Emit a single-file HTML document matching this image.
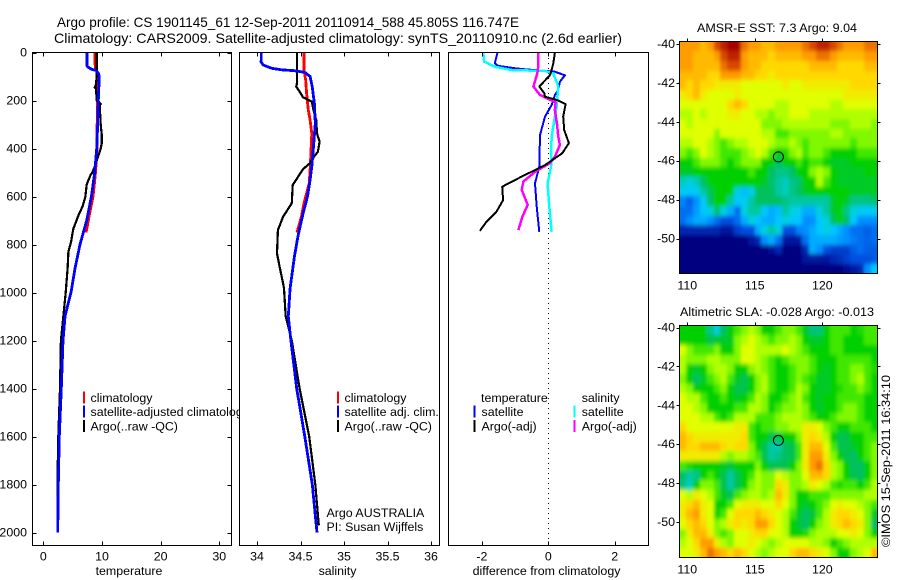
<!DOCTYPE html>
<html lang="en">
<head>
<meta charset="utf-8">
<title>Argo profile 1901145_61</title>
<style>
html,body{margin:0;padding:0;background:#fff;}
svg{display:block;}
text{font-family:"Liberation Sans",sans-serif;font-size:12.4px;fill:#000;}
</style>
</head>
<body>
<svg id="chart" xmlns="http://www.w3.org/2000/svg" width="900" height="580" viewBox="0 0 900 580">
  <defs>
    <filter id="soften" filterUnits="userSpaceOnUse" x="660" y="20" width="240" height="560"><feGaussianBlur stdDeviation="1.6 2.2"/></filter>
    <clipPath id="clip-map-1"><rect x="679.5" y="41.5" width="198" height="232"/></clipPath>
    <clipPath id="clip-map-2"><rect x="679.5" y="325.5" width="198" height="232"/></clipPath>
  </defs>
  <rect x="0" y="0" width="900" height="580" fill="#fff"/>
  <text x="57" y="27" style="font-size:13.6px" textLength="462" lengthAdjust="spacingAndGlyphs">Argo profile: CS 1901145_61 12-Sep-2011 20110914_588 45.805S 116.747E</text>
  <text x="54" y="43" style="font-size:13.6px" textLength="568" lengthAdjust="spacingAndGlyphs">Climatology: CARS2009. Satellite-adjusted climatology: synTS_20110910.nc (2.6d earlier)</text>
  <g id="layer"></g>
  <text x="697" y="32" textLength="160" lengthAdjust="spacingAndGlyphs">AMSR-E SST: 7.3 Argo: 9.04</text>
  <text x="680" y="316" textLength="194" lengthAdjust="spacingAndGlyphs">Altimetric SLA: -0.028 Argo: -0.013</text>
  <text transform="translate(890,547) rotate(-90)" textLength="172" lengthAdjust="spacingAndGlyphs">©IMOS 15-Sep-2011 16:34:10</text>
</svg>
<script>
/* ---------- tick labels ---------- */
const depthTicks = [0,200,400,600,800,1000,1200,1400,1600,1800,2000];
const tempTicks = [0,10,20,30];
const salTicks = [34,34.5,35,35.5,36];
const salTickLabels = ['34','34.5','35','35.5','36'];
const diffTicks = [-2,0,2];
const lonTicks = [110,115,120];
const latTicks = [-40,-42,-44,-46,-48,-50];
const floatLon = 116.747;
const floatLat = -45.805;

/* ---------- temperature panel ---------- */
const tClimDepth = [0,60,100,200,400,500,550,600,650,700,750];
const tClimVal = [8.8,8.85,9.38,9.2,9.15,8.9,8.7,8.47,8.07,7.67,7.3];
const tSatDepth = [0,55,60,70,75,85,100,200,300,400,500,600,700,800,900,1000,1100,1200,1400,1600,1800,2000];
const tSatVal = [7.45,7.45,7.56,8.24,8.98,9.38,9.55,9.38,9.27,9.1,8.76,8.19,7.39,6.25,5.4,4.72,3.7,3.35,3.07,2.73,2.56,2.45];
const tArgoDepth = [0,100,140,145,150,200,205,215,220,300,340,380,400,430,480,500,510,550,600,640,680,735,790,830,900,1000,1200,1400,1600,1800,1950];
const tArgoVal = [9.1,9.1,8.93,8.76,8.98,9.1,9.44,9.78,9.61,9.78,9.95,9.95,9.78,9.38,8.7,8.36,8.07,7.39,7.17,6.71,5.97,5.12,4.72,4.27,4.15,3.81,3.0,2.85,2.55,2.4,2.4];

/* ---------- salinity panel ---------- */
const sClimDepth = [0,73,115,170,240,281,337,420,490,545,628,684,750];
const sClimVal = [34.54,34.54,34.56,34.57,34.59,34.61,34.63,34.62,34.61,34.6,34.54,34.51,34.46];
const sSatDepth = [0,31,38,52,66,72,76,83,100,142,212,295,392,475,531,600,670,767,851,983,1100,1200,1400,1600,1800,2000];
const sSatVal = [34.05,34.05,34.045,34.07,34.17,34.28,34.43,34.55,34.61,34.635,34.66,34.67,34.65,34.63,34.61,34.58,34.53,34.47,34.43,34.38,34.36,34.39,34.456,34.55,34.636,34.69];
const sArgoDepth = [0,128,142,163,187,205,240,281,337,372,413,437,461,486,552,628,684,740,837,892,962,983,1100,1200,1400,1600,1800,1970];
const sArgoVal = [34.46,34.46,34.45,34.49,34.53,34.63,34.65,34.68,34.69,34.72,34.7,34.65,34.61,34.53,34.41,34.4,34.3,34.24,34.23,34.26,34.3,34.31,34.33,34.4,34.49,34.6,34.67,34.71];

/* ---------- difference panel ---------- */
const dTempSatDepth = [0,45,56,66,70,80,95,122,156,177,219,267,344,476,545,642,747];
const dTempSatVal = [-1.53,-1.61,-1.51,-1,-0.7,0.2,0.5,0.35,0.3,0.2,0.1,-0.1,-0.25,-0.27,-0.4,-0.35,-0.27];
const dSalSatDepth = [0,38,59,73,77,87,142,226,351,476,545,628,747];
const dSalSatVal = [-1.96,-1.93,-1.61,-1.1,-0.1,0.15,0.3,0.25,0.1,0.08,-0.02,0.02,0.1];
const dSalArgoDepth = [0,59,87,142,177,208,240,295,351,385,434,461,497,538,573,635,684,740];
const dSalArgoVal = [-0.3,-0.3,-0.33,-0.45,-0.25,0.22,0.2,0.26,0.3,0.35,0.2,0.05,-0.4,-0.75,-0.8,-0.62,-0.78,-0.9];
const dTempArgoDepth = [0,45,73,94,142,170,184,200,215,267,323,378,420,469,517,559,615,663,705,743];
const dTempArgoVal = [0.2,0.15,0.1,0.05,-0.27,-0.12,-0.1,0.3,0.52,0.45,0.48,0.62,0.42,-0.1,-0.8,-1.39,-1.36,-1.56,-1.86,-2.06];

/* ---------- maps (colour index per cell, north to south) ---------- */
const sstGrid = [
[9,9,9,8.5,9,10,10.5,11,11,9.5,9,9,8.5,8.5,9,9,9,9,9.5,10,10.5,10.5,10,9.5,9,9,9,9.5,9.5],
[9,9,8.5,8.5,8.5,9,10,10.5,10.5,9,8.5,8.5,8.5,8,8.5,8.5,8.5,8.5,9,9,9.5,9.5,9,8.5,8.5,8.5,8.5,9,9],
[9,9,8.5,8.5,8.5,8.5,9.5,10,10,9,8.5,8.5,8,8,8,8,8,8,8,8.5,8.5,8.5,8.5,8,8,8,8,8.5,8.5],
[8.5,8.5,8.5,8.5,8,8,9,9,9,8.5,8.5,8,8,7.5,8,8,8,8,8,8,8,8,8,8,8,8,8,8,8],
[8.5,8,8.5,8,8,7.5,7.5,7.5,7.5,7,7,7,7,7,7,7.5,7,7,7.5,7.5,7.5,7.5,7.5,7.5,7.5,8,8,8,8],
[7.5,8,8.5,7.5,7,7,7,7,7.5,7,7,7,7,7,7,7,7,7,7,7,7,7,7,7,7.5,7.5,7.5,7.5,7.5],
[7,7,7,7,7,7,7,8,8.5,8,7,7,7,7,6.5,6.5,7,7,7,7,7,7,6.5,6.5,7,7,7,7,7],
[6.5,6.5,7,6.5,7,7,7,7.5,7.5,7,7,6.5,6.5,6,6.5,6.5,7,7,7,6.5,6.5,6.5,6.5,6.5,6.5,6.5,6.5,6.5,6.5],
[7,6.5,7,7,7,7,7,7,7,7,7,7,6,6,6,6.5,6.5,6.5,6.5,6.5,6.5,6.5,6,6,6,6.5,6.5,6.5,6],
[7,7,7,7,7,6,7,7,7,7,7,7,6.5,6.5,5.5,5.5,6,6,6,6,6,6,6.5,6.5,6,6,6,6,6],
[6.5,6.5,7,7,6.5,6,5.5,6,6.5,6.5,7,7,7,6.5,6,6,6.5,6,5.5,6,6,6,6,6,6,5.5,6,6,6],
[6,5.5,6,7,6.5,6,5.5,5.5,5.5,6,6.5,7,6.5,5.5,5,5.2,6,6.5,5.5,6,6,5.5,5,5,5,5,5.5,5.5,5.5],
[5,5,5.5,6,6,6,5.5,5,5.5,6,6,6,5,5,4.5,5,5,5.5,5,5.5,5.5,5,4.8,4.8,4.8,5,5,5,5],
[4.8,4.8,5,5,5,5,5,5,5,5,5.5,5,5,4.5,4.2,4.2,4.5,5,5,6,6.5,6,5,4.8,4.8,4.8,4.8,5,5],
[3.8,3.5,3.8,4.5,5,5,5,5,5,5,5,5,4.8,4.4,4,3.8,4.2,4.4,5,5,6.5,5.5,5,4.8,4.8,4.8,4.8,4.8,4.8],
[3.2,3,3.2,4,4.6,5,5,5,3.5,2.8,3.5,4.5,4.5,4.5,4,3.8,4.2,4.5,4.8,5,5,5,5,5,5,4.8,4.8,4.8,4.8],
[1.8,1.3,2,3.2,4.5,5,5,4,3,3.2,4,4.5,4.5,4.5,4.5,4.2,4,4,4,4,4,4,4.8,5,4.8,4.2,4.2,4.2,4.4],
[1.5,1.5,2.2,3,3.5,4.5,3.5,2.5,1.5,3.5,4,4,3,2.5,2.8,4,3.5,3.2,2.5,2.5,3.5,4,4.8,5,4.2,3.5,3.2,3,3.2],
[1.5,2,2.5,2.5,2,1.5,1,1,1.5,2.5,3.5,3,2.5,2.5,3,3.5,3,3,2,2,3,3.5,4.5,5,4.5,3,2,2,2],
[0.5,0.5,0.5,0.5,0.5,0.5,0.3,0.3,0.8,1,1,2.5,3.5,4,3.5,1,1,1.8,2,2.5,3,3.5,3,2.5,2,1.5,1.5,1.2,1.5],
[0,0,0,0,0,0,0,0,0,0,0.3,0.5,2,2.5,1.5,0.3,0.3,0.3,1.5,2.5,2.5,2.5,2.5,2.2,2,1.7,1.5,1.3,1.5],
[0,0,0,0,0,0,0,0,0,0,0,0,0,0.2,0.5,0,0,0,0.5,2.5,2,1,0.8,0.8,0.8,1.2,1.5,1.2,1.2],
[0,0,0,0,0,0,0,0,0,0,0,0,0,0,0,0,0,0,0.3,0.3,0.3,0.3,0.5,0.6,0.8,1,1,1,1.2],
[0,0,0,0,0,0,0,0,0,0,0,0,0,0,0,0,0,0,0,0,0,0,0,0,0.2,0.3,0.5,2,3]
];
const slaGrid = [
[5,5,5,5,4.2,3.6,4.5,5,5.5,6,6.5,6,5,5,5.5,6,6,5.5,4.8,4.3,4.3,5,5.5,5.5,5.5,5,5.2,5.5,5.5],
[5,5,5,5,4.6,4.8,4.8,4.8,6,6.5,7,6.5,6,5.5,6,6,6.5,6,5,4.8,4.8,5,5.5,5.5,5,5,5,5.5,5.5],
[7,6,5.5,5.5,5.5,6,5,5,6,7,7,6.5,6.5,6.5,6.5,7,6.5,6,5.5,5,5,5,5.5,5.5,5,5,5,5,5],
[6.5,6,6,6,6.5,6.5,6,6,6,7,7,6.5,6,5.5,5,5.5,6,6,6,5.5,5,5,5,5.5,5.5,5.5,5.5,5.5,5],
[6.5,5,4.8,5,6,6.5,6.5,6,5,5,6,6.5,6,5.5,5,5,5.5,6,6,5.5,5,4.8,5,5.5,5.5,6,6,5.5,5.2],
[6,5,4.5,4.8,5.5,6,6.5,5.5,4.8,4.6,5,6,6.5,5.5,5,5,5.5,6,5.5,5.2,4.8,4.8,5,5.5,5.5,6,6.5,5.5,5],
[6.5,6,5,5,5,5.5,6,5,4.6,4.6,5,6,6.5,5.5,5,5,5.5,6.5,6,5,4.8,4.8,5,5.2,5.5,5.5,6,5.5,5],
[7,6.5,6.5,5.5,5,5,5.5,5,4.8,5,5.5,6.5,6,5,5,5.5,6,6.5,5.5,5,4.8,5,5,5.5,5.5,5.5,5.5,5,5],
[7,7,6.5,6,5,5,5,5,5.5,5.5,6.5,6.5,6,5,5.5,6,6,6.5,6,5,4.8,5,5,5.5,6,6,5.5,5,5],
[7,7,7,6.5,6.5,5.5,5,5.5,6.5,6.5,6.5,5.5,5.5,5.5,6,6.5,6.5,6.5,6,5.5,5,5,5.5,6,6,6,5.5,5,5],
[8,7,7,7,7,7,7,7,7.5,7.5,5.5,5,5.5,5.5,6,6,6.5,6.5,7.5,7.5,7,6,5.5,5,5,5.5,5.5,5.5,5],
[8.5,8,7.5,7.5,7.5,7.5,7.5,7.5,7.5,8,5.5,5,5,4.6,4.6,5,5,6,7.5,8,7.5,6.5,5,4.6,4.6,5,5,5.5,5.5],
[8.5,8,8,8.5,8.5,8.5,8,7.5,8,8,6,5,4.6,4,3.9,4.5,4.6,5.5,7.5,8.5,8.5,7,5.5,4.6,4.6,4.8,5,5.5,6],
[7.5,7.5,7.5,7.5,7.5,7.5,6.5,6,6.5,6.5,6,5.5,4.6,4,4.2,4.5,4.6,5.5,7.5,9,9,7.5,6,5,4.6,4.5,5,5.5,6],
[5.5,5.2,5,5,5,5,4.8,4.7,5,5,5,6,5,4.6,4.6,4.6,5,6,7.5,9,9.5,8,6.5,6,5,4.5,4.5,5,6],
[4.5,4,4.2,5,5.5,5,4.6,4,4.6,5,5.5,6.5,6,6,7,6.5,6,6,7,8.5,8.5,8,6.5,6,5,4.6,4.5,5,6],
[4.3,3.8,5,6,6,5.5,4.6,4,4.6,5,6,6.5,6,6,8,7.5,6,6,6.5,7.5,7,6.5,5.5,5.2,5.5,5.5,5,5.5,6.5],
[7,6.5,7.5,7,6.5,5.5,4.8,4.6,5.5,6,6.5,6.5,6,6.5,8.5,7.5,6,5,5,5.5,5.5,5.5,6,6,6,6,6,6.5,6.5],
[7.5,8,8.5,7.5,7,5,5,5.5,7,7.5,7.5,7.5,7,7,8,7,6,5,4.8,5,5.5,6,7,7.5,7,7,6.5,6,5.5],
[7.5,8.5,9,7.5,7,5,5.5,7,8,8,8,8.5,8,7.5,7,6.5,5.5,4.8,4.5,4.7,5.5,6.5,7.5,8,8,7.5,7,6,4.8],
[7,8,8.5,8,7,6,6.5,7.5,8,7.5,8,9,9,8,7,6.5,5,4.7,4.5,5,6,6.5,7.5,8,8.5,8,7.5,6,4.5],
[6,7.5,8.5,8.5,7.5,6,5.5,6,7,7,7.5,8,8,7,7,6.5,5,5,5.2,6,6.5,6.5,6.5,7,7,7.5,7,6,5],
[6.5,7,8,9,9,7.5,6.5,6,7,7,7.5,7,6.5,6,6.5,7,7,7,7,6.5,6.5,6,5,5.5,6,6.5,6.5,6.5,6.5],
[7,7,7.5,8.5,9.5,9,8.5,8,8.5,8,7,6.5,6,6.5,7,7,8,8.5,8.5,8,7.5,7,6,5,5,6,6.5,7,8.5]
];

/* ---------- helpers ---------- */
const SVGNS = 'http://www.w3.org/2000/svg';
const layer = document.getElementById('layer');
function mk(tag, attrs, text, parent) {
  const el = document.createElementNS(SVGNS, tag);
  for (const k in attrs) el.setAttribute(k, attrs[k]);
  if (text !== undefined && text !== null) el.textContent = text;
  (parent || layer).appendChild(el);
  return el;
}
const yDepth = d => 52.5 + 0.24 * d;
const xTemp = v => 43.3 + 5.867 * v;
const xSal = v => 257 + 87 * (v - 34);
const xDiff = v => 548.3 + 33.2 * v;
const xLon = v => 687.3 + 13.5 * (v - 110);
const yLat1 = v => 44 + 19.45 * (-40 - v);
const yLat2 = v => 327.5 + 19.45 * (-40 - v);

const colorStops = [[0,0,0,128],[1,0,80,224],[2,0,144,255],[3,0,200,255],[3.6,0,208,216],[4,0,200,160],[4.5,0,192,96],[5,0,208,0],[5.5,64,232,0],[6,128,248,0],[6.5,176,255,0],[7,224,255,0],[8,255,216,0],[9,255,156,0],[10,216,72,0],[11,168,0,0]];
function colorOf(v) {
  for (let i = 1; i < colorStops.length; i++) {
    const a = colorStops[i-1], b = colorStops[i];
    if (v <= b[0]) {
      const t = Math.max(0, (v - a[0]) / (b[0] - a[0]));
      return 'rgb(' + [1,2,3].map(c => Math.round(a[c] + (b[c]-a[c]) * t)).join(',') + ')';
    }
  }
  return 'rgb(168,0,0)';
}
function drawLine(depths, vals, xFn, color, width, name) {
  const pts = depths.map((d, i) => xFn(vals[i]).toFixed(1) + ',' + yDepth(d).toFixed(1)).join(' ');
  const line = mk('polyline', {points: pts, fill: 'none', stroke: color, 'stroke-width': width, 'shape-rendering': 'crispEdges', 'stroke-linejoin': 'round'});
  
  
}
function drawPanelBox(x0, x1, name) {
  const box = mk('rect', {x: x0, y: 52.5, width: x1 - x0, height: 493, fill: '#fff', stroke: 'none'});
  
  
}
function drawPanelFrame(x0, x1, name) {
  const box = mk('rect', {x: x0, y: 52.5, width: x1 - x0, height: 493, fill: 'none', stroke: '#000', 'stroke-width': 1, 'shape-rendering': 'crispEdges'});
  
  
}
function drawXTicks(ticks, labels, xFn, name) {
  ticks.forEach((t, i) => {
    const x = Math.round(xFn(t)) + 0.5;
    const top = mk('line', {x1: x, x2: x, y1: 52.5, y2: 56.5, stroke: '#000', 'shape-rendering': 'crispEdges'});
    
    
    const bot = mk('line', {x1: x, x2: x, y1: 541.5, y2: 545.5, stroke: '#000', 'shape-rendering': 'crispEdges'});
    
    
    const lab = mk('text', {x: xFn(t), y: 560.5, 'text-anchor': 'middle'}, labels[i]);
    
    
  });
}
function drawLegendRow(mx, tx, cy, color, label, name) {
  if (color) {
    const m = mk('rect', {x: mx, y: cy - 6, width: 2, height: 12, fill: color, 'shape-rendering': 'crispEdges'});
    
    
  }
  const t = mk('text', {x: tx, y: cy + 4.5}, label);
  
  
}

/* ---------- temperature panel ---------- */
drawPanelBox(32.5, 231.5, 'temperature-panel');
drawLine(tClimDepth, tClimVal, xTemp, '#ff0000', 2.8, 'temperature-climatology-line');
drawLine(tArgoDepth, tArgoVal, xTemp, '#000000', 2.2, 'temperature-argo-line');
drawLine(tSatDepth, tSatVal, xTemp, '#0000ff', 2.8, 'temperature-satellite-line');
drawXTicks(tempTicks, tempTicks.map(String), xTemp, 'temperature-axis');
depthTicks.forEach(d => {
  const y = Math.round(yDepth(d)) + 0.5;
  const l = mk('line', {x1: 32.5, x2: 36.5, y1: y, y2: y, stroke: '#000', 'shape-rendering': 'crispEdges'});
  
  
  const r = mk('line', {x1: 227.5, x2: 231.5, y1: y, y2: y, stroke: '#000', 'shape-rendering': 'crispEdges'});
  
  
  const lab = mk('text', {x: 27, y: yDepth(d) + 4, 'text-anchor': 'end'}, String(d));
  
  
});
drawLegendRow(83, 90.5, 397.7, '#ff0000', 'climatology', 'temperature-legend-climatology');
drawLegendRow(83, 90.5, 411.7, '#0000ff', 'satellite-adjusted climatology', 'temperature-legend-satellite');
drawLegendRow(83, 90.5, 426, '#000000', 'Argo(..raw -QC)', 'temperature-legend-argo');
drawPanelFrame(32.5, 231.5, 'temperature-panel');
const tLabel = mk('text', {x: 129, y: 575, 'text-anchor': 'middle'}, 'temperature');



/* ---------- salinity panel ---------- */
drawPanelBox(239.5, 439.5, 'salinity-panel');
drawLine(sClimDepth, sClimVal, xSal, '#ff0000', 2.8, 'salinity-climatology-line');
drawLine(sArgoDepth, sArgoVal, xSal, '#000000', 2.2, 'salinity-argo-line');
drawLine(sSatDepth, sSatVal, xSal, '#0000ff', 2.8, 'salinity-satellite-line');
drawXTicks(salTicks, salTickLabels, xSal, 'salinity-axis');
drawLegendRow(337, 344.5, 397.7, '#ff0000', 'climatology', 'salinity-legend-climatology');
drawLegendRow(337, 344.5, 411.7, '#0000ff', 'satellite adj. clim.', 'salinity-legend-satellite');
drawLegendRow(337, 344.5, 426, '#000000', 'Argo(..raw -QC)', 'salinity-legend-argo');
drawLegendRow(0, 326.5, 512.7, null, 'Argo AUSTRALIA', 'data-centre-note');
drawLegendRow(0, 326.5, 526.7, null, 'PI: Susan Wijffels', 'principal-investigator-note');
drawPanelFrame(239.5, 439.5, 'salinity-panel');
const sLabel = mk('text', {x: 337.5, y: 575, 'text-anchor': 'middle'}, 'salinity');



/* ---------- difference panel ---------- */
drawPanelBox(448.5, 648.5, 'difference-panel');
const zeroLine = mk('line', {x1: xDiff(0), x2: xDiff(0), y1: 53, y2: 545, stroke: '#000', 'stroke-dasharray': '1 4', 'shape-rendering': 'crispEdges'});


drawLine(dTempSatDepth, dTempSatVal, xDiff, '#0000ff', 2, 'difference-temperature-satellite-line');
drawLine(dSalSatDepth, dSalSatVal, xDiff, '#00ffff', 2.5, 'difference-salinity-satellite-line');
drawLine(dSalArgoDepth, dSalArgoVal, xDiff, '#ff00ff', 2.5, 'difference-salinity-argo-line');
drawLine(dTempArgoDepth, dTempArgoVal, xDiff, '#000000', 2, 'difference-temperature-argo-line');
drawXTicks(diffTicks, diffTicks.map(String), xDiff, 'difference-axis');
drawLegendRow(0, 481, 397.7, null, 'temperature', 'difference-legend-temperature-heading');
drawLegendRow(473.5, 481.5, 411.7, '#0000ff', 'satellite', 'difference-legend-temperature-satellite');
drawLegendRow(473.5, 481.5, 426, '#000000', 'Argo(-adj)', 'difference-legend-temperature-argo');
drawLegendRow(0, 581.7, 397.7, null, 'salinity', 'difference-legend-salinity-heading');
drawLegendRow(573.5, 581.7, 411.7, '#00ffff', 'satellite', 'difference-legend-salinity-satellite');
drawLegendRow(573.5, 581.7, 426, '#ff00ff', 'Argo(-adj)', 'difference-legend-salinity-argo');
drawPanelFrame(448.5, 648.5, 'difference-panel');
const dLabel = mk('text', {x: 546.5, y: 575, 'text-anchor': 'middle'}, 'difference from climatology');



/* ---------- maps ---------- */
function drawMap(grid, top, bottom, yFn, labelY, name, clipId) {
  const left = 679.5, right = 877.5;
  const rows = grid.length, cols = grid[0].length;
  const clipGroup = mk('g', {'clip-path': 'url(#' + clipId + ')'});
  
  
  const cellGroup = mk('g', {filter: 'url(#soften)'}, null, clipGroup);
  
  
  grid.forEach((row, r) => {
    row.forEach((v, c) => {
      /* border cells extend past the frame so the softening does not fade to white at the edge */
      const x0 = c === 0 ? left - 10 : Math.round(left + (right - left) * c / cols);
      const x1 = c === cols - 1 ? right + 10 : Math.round(left + (right - left) * (c + 1) / cols);
      const y0 = r === 0 ? top - 10 : Math.round(top + (bottom - top) * r / rows);
      const y1 = r === rows - 1 ? bottom + 10 : Math.round(top + (bottom - top) * (r + 1) / rows);
      const cell = mk('rect', {x: x0, y: y0, width: x1 - x0, height: y1 - y0, fill: colorOf(v), 'shape-rendering': 'crispEdges'}, null, cellGroup);
      
      
    });
  });
  const frame = mk('rect', {x: left, y: top, width: right - left, height: bottom - top, fill: 'none', stroke: '#000', 'shape-rendering': 'crispEdges'});
  
  
  lonTicks.forEach(t => {
    const x = Math.round(xLon(t)) + 0.5;
    const tk = mk('line', {x1: x, x2: x, y1: top - 3, y2: top, stroke: '#000', 'shape-rendering': 'crispEdges'});
    
    
    const lab = mk('text', {x: xLon(t), y: labelY, 'text-anchor': 'middle'}, String(t));
    
    
  });
  latTicks.forEach(t => {
    const y = Math.round(yFn(t)) + 0.5;
    const a = mk('line', {x1: left - 3, x2: left, y1: y, y2: y, stroke: '#000', 'shape-rendering': 'crispEdges'});
    
    
    const b = mk('line', {x1: right, x2: right + 3, y1: y, y2: y, stroke: '#000', 'shape-rendering': 'crispEdges'});
    
    
    const lab = mk('text', {x: 675, y: yFn(t) + 4, 'text-anchor': 'end'}, String(t));
    
    
  });
  const mark = mk('circle', {cx: xLon(floatLon), cy: yFn(floatLat), r: 5, fill: 'none', stroke: '#000', 'stroke-width': 1});
  
  
}
drawMap(sstGrid, 41.5, 273.5, yLat1, 289.5, 'sst-map', 'clip-map-1');
drawMap(slaGrid, 325.5, 557.5, yLat2, 573.5, 'sla-map', 'clip-map-2');
</script>
</body>
</html>
